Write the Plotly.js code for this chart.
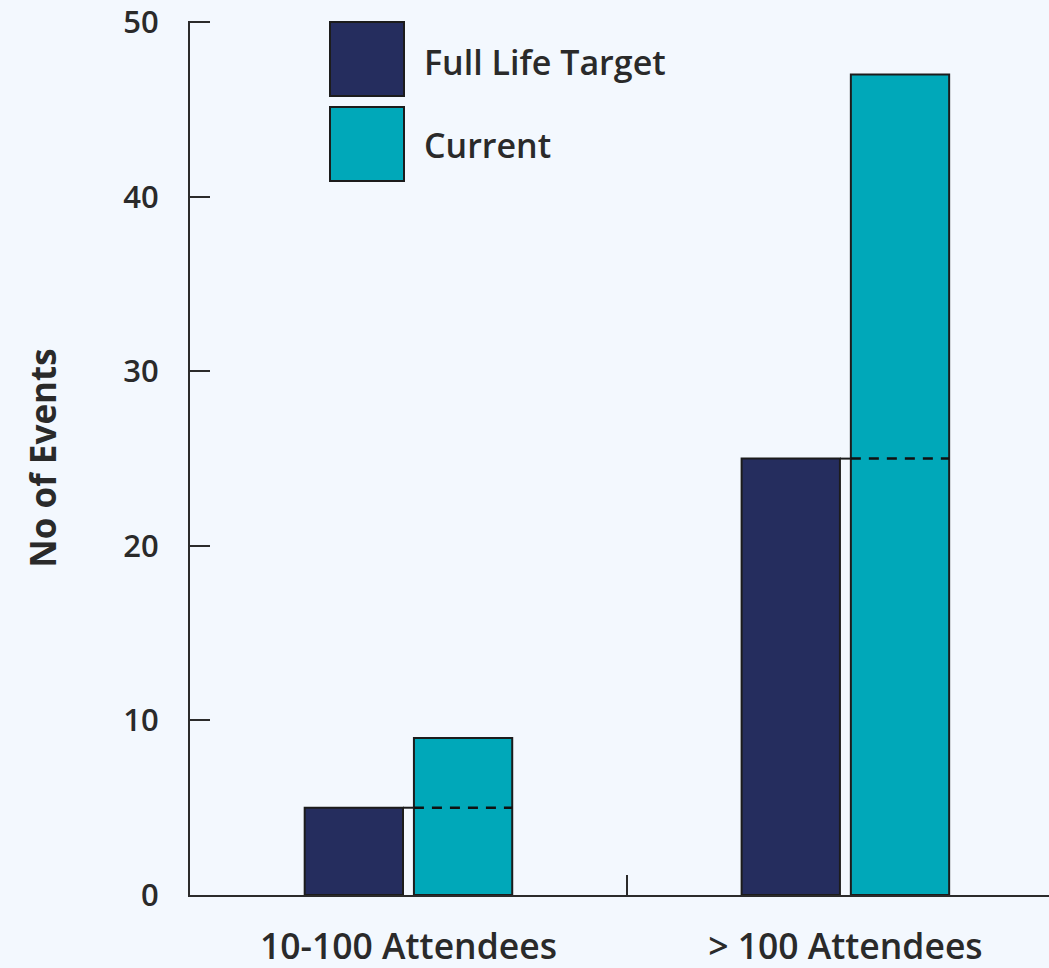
<!DOCTYPE html>
<html>
<head>
<meta charset="utf-8">
<script src="https://cdn.plot.ly/plotly-3.0.1.min.js"></script>
<style>html,body{margin:0;padding:0;background:#f3f8fe;}#chart{width:1049px;height:968px;}</style>
</head>
<body>
<div id="chart"></div>
<script>
const categories = ['10-100 Attendees', '> 100 Attendees'];
const seriesNames = ['Full Life Target', 'Current'];
const fullLifeTarget = [5, 25];
const current = [9, 47];
const yTickVals = [0, 10, 20, 30, 40, 50];

const colors = ['#252d5e', '#00a8b9'];
const edge = '#1c1c1c';
const textColor = '#2a2a2a';

const BARGAP = 0.5, BARGROUPGAP = 0.1;
const slot = (1 - BARGAP) / 2;
const barW = slot * (1 - BARGROUPGAP);

const traces = [
  {type: 'bar', name: seriesNames[0], x: categories, y: fullLifeTarget,
   marker: {color: colors[0], line: {color: edge, width: 2}}, hoverinfo: 'x+y'},
  {type: 'bar', name: seriesNames[1], x: categories, y: current,
   marker: {color: colors[1], line: {color: edge, width: 2}}, hoverinfo: 'x+y'}
];

const shapes = [];
fullLifeTarget.forEach((v, i) => {
  const darkRight = i - slot / 2 + barW / 2;
  const tealLeft = i + slot / 2 - barW / 2;
  const tealRight = i + slot / 2 + barW / 2;
  shapes.push({type: 'line', xref: 'x', yref: 'y', x0: darkRight, x1: tealLeft, y0: v, y1: v,
               line: {color: edge, width: 2}, layer: 'above'});
  shapes.push({type: 'line', xref: 'x', yref: 'y', x0: tealLeft, x1: tealRight, y0: v, y1: v,
               line: {color: '#111111', width: 2.5, dash: '10px,8px'}, layer: 'above'});
});

// custom large legend (paper coords, plot spans y 21..895)
const PLOT_TOP = 21, PLOT_BOTTOM = 895;
const toPaperY = (px) => (PLOT_BOTTOM - px) / (PLOT_BOTTOM - PLOT_TOP);
const toPaperX = (px) => (px - 190) / 859;
const legendBoxes = [[96, 22], [181, 107]];
const legendTextY = [62, 145];
const annotations = [];
seriesNames.forEach((n, k) => {
  shapes.push({type: 'rect', xref: 'paper', yref: 'paper', x0: toPaperX(330), x1: toPaperX(404),
               y0: toPaperY(legendBoxes[k][0]), y1: toPaperY(legendBoxes[k][1]),
               fillcolor: colors[k], line: {color: edge, width: 2}});
  annotations.push({xref: 'paper', yref: 'paper', x: toPaperX(422), y: toPaperY(legendTextY[k]),
                    xanchor: 'left', yanchor: 'middle', showarrow: false, text: n,
                    font: {family: 'Open Sans, sans-serif', size: 34, weight: 600, color: textColor}});
});

const layout = {
  width: 1049, height: 968,
  margin: {l: 190, r: 0, t: PLOT_TOP, b: 968 - PLOT_BOTTOM},
  paper_bgcolor: '#f3f8fe', plot_bgcolor: '#f3f8fe',
  barmode: 'group', bargap: BARGAP, bargroupgap: BARGROUPGAP,
  showlegend: false,
  font: {family: 'Open Sans, sans-serif', color: textColor},
  xaxis: {
    type: 'category', range: [-0.5, 1.466], showgrid: false, zeroline: false,
    showline: true, linecolor: '#2b2b2b', linewidth: 2,
    ticks: 'inside', tickson: 'boundaries', ticklen: 20, tickwidth: 2, tickcolor: '#2b2b2b',
    ticklabelstandoff: 19,
    tickfont: {size: 35.5, weight: 600, color: textColor},
    fixedrange: true
  },
  yaxis: {
    range: [0, 50.07], tickvals: yTickVals, showgrid: false, zeroline: false,
    showline: true, linecolor: '#2b2b2b', linewidth: 2,
    ticks: 'inside', ticklen: 20, tickwidth: 2, tickcolor: '#2b2b2b',
    ticklabelstandoff: 23, ticklabeloverflow: 'allow',
    tickfont: {size: 31, weight: 600, color: textColor},
    title: {text: 'No of Events', standoff: 56, font: {size: 35, weight: 700, color: textColor}},
    fixedrange: true
  },
  shapes: shapes,
  annotations: annotations
};

Plotly.newPlot('chart', traces, layout, {displayModeBar: false, staticPlot: true});
</script>
</body>
</html>
